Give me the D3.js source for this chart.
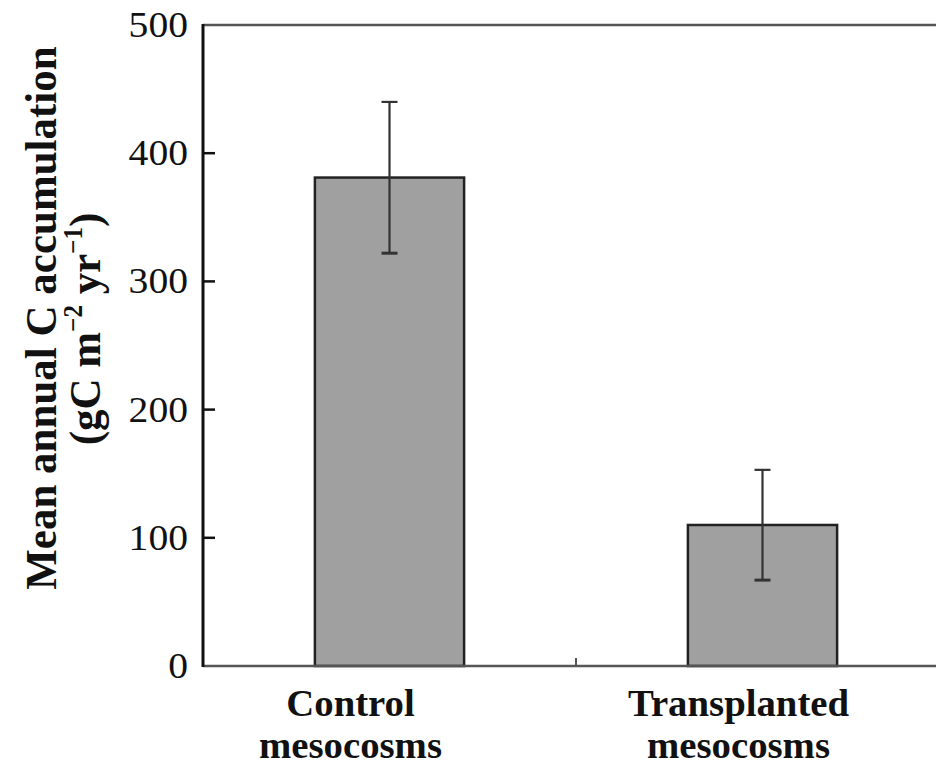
<!DOCTYPE html>
<html>
<head>
<meta charset="utf-8">
<script src="https://cdn.jsdelivr.net/npm/d3@7"></script>
<style>
  html, body { margin: 0; padding: 0; background: #fff; }
  svg { display: block; }
  text { font-family: "Liberation Serif", "Times New Roman", serif; fill: #111; }
</style>
</head>
<body>
<svg id="chart" width="936" height="767"></svg>
<script>
// Mean annual carbon accumulation per treatment, with error bars
const categories = ["Control", "Transplanted"];
const labelLines = [["Control", "mesocosms"], ["Transplanted", "mesocosms"]];
const meanValues = [381, 110];
const errorValues = [59, 43];
const yTicks = [0, 100, 200, 300, 400, 500];

const svg = d3.select("#chart");
const W = 936, H = 767;
const plot = { left: 203, right: 949, top: 25, bottom: 666 };

svg.append("rect").attr("width", W).attr("height", H).attr("fill", "#fff");

const x = d3.scaleBand()
  .domain(categories)
  .range([plot.left, plot.right])
  .paddingInner(0.6)
  .paddingOuter(0.3);

const y = d3.scaleLinear().domain([0, 500]).range([plot.bottom, plot.top]);

// bars
svg.append("g").selectAll("rect")
  .data(categories)
  .join("rect")
  .attr("x", d => x(d))
  .attr("y", (d, i) => y(meanValues[i]))
  .attr("width", x.bandwidth())
  .attr("height", (d, i) => y(0) - y(meanValues[i]))
  .attr("fill", "#a0a0a0")
  .attr("stroke", "#222")
  .attr("stroke-width", 2.5);

// error bars
const capHalf = 8;
const eb = svg.append("g").attr("stroke", "#333").attr("stroke-width", 2.2);
categories.forEach((c, i) => {
  const cx = x(c) + x.bandwidth() / 2;
  const hi = y(meanValues[i] + errorValues[i]);
  const lo = y(meanValues[i] - errorValues[i]);
  eb.append("line").attr("x1", cx).attr("x2", cx).attr("y1", hi).attr("y2", lo);
  eb.append("line").attr("x1", cx - capHalf).attr("x2", cx + capHalf).attr("y1", hi).attr("y2", hi);
  eb.append("line").attr("x1", cx - capHalf).attr("x2", cx + capHalf).attr("y1", lo).attr("y2", lo).attr("stroke-width", 3);
});

// frame: top border and baseline
svg.append("line")
  .attr("x1", plot.left).attr("x2", plot.right)
  .attr("y1", y(500)).attr("y2", y(500))
  .attr("stroke", "#555").attr("stroke-width", 2.5);
svg.append("line")
  .attr("x1", plot.left).attr("x2", plot.right)
  .attr("y1", y(0)).attr("y2", y(0))
  .attr("stroke", "#555").attr("stroke-width", 2.5);

// separator tick between the two categories
const sepX = (x(categories[0]) + x.bandwidth() + x(categories[1])) / 2;
svg.append("line")
  .attr("x1", sepX).attr("x2", sepX)
  .attr("y1", y(0)).attr("y2", y(0) - 8)
  .attr("stroke", "#555").attr("stroke-width", 2);

// y axis with inward ticks
const yAxis = svg.append("g");
yAxis.append("line")
  .attr("x1", plot.left).attr("x2", plot.left)
  .attr("y1", y(500) - 1).attr("y2", y(0) + 1)
  .attr("stroke", "#111").attr("stroke-width", 3);
yAxis.selectAll("line.tick")
  .data(yTicks.filter(t => t > 0 && t < 500))
  .join("line")
  .attr("class", "tick")
  .attr("x1", plot.left).attr("x2", plot.left + 12)
  .attr("y1", d => y(d)).attr("y2", d => y(d))
  .attr("stroke", "#111").attr("stroke-width", 2.5);
yAxis.selectAll("g.lbl")
  .data(yTicks)
  .join("g")
  .attr("class", "lbl")
  .attr("transform", d => `translate(188,${y(d) + 12}) scale(1.1,1)`)
  .append("text")
  .attr("text-anchor", "end")
  .attr("font-size", 36)
  .text(d => d);

// category labels
const labelShift = [-39, -24];
categories.forEach((c, i) => {
  const cx = x(c) + x.bandwidth() / 2 + labelShift[i];
  labelLines[i].forEach((line, j) => {
    svg.append("g")
      .attr("transform", `translate(${cx},${716 + j * 42}) scale(1.02,1)`)
      .append("text")
      .attr("text-anchor", "middle")
      .attr("font-size", 38)
      .attr("font-weight", "bold")
      .text(line);
  });
});

// y axis title
svg.append("g")
  .attr("transform", `translate(56,318) scale(1.05,1) rotate(-90)`)
  .append("text")
  .attr("text-anchor", "middle")
  .attr("font-size", 43)
  .attr("font-weight", "bold")
  .text("Mean annual C accumulation");

const t2 = svg.append("g")
  .attr("transform", `translate(100,329) scale(1.05,1) rotate(-90)`)
  .append("text")
  .attr("text-anchor", "middle")
  .attr("font-size", 43)
  .attr("font-weight", "bold");
t2.append("tspan").text("(gC m");
t2.append("tspan").attr("font-size", 25).attr("dy", -17).text("\u22122");
t2.append("tspan").attr("dy", 17).text(" yr");
t2.append("tspan").attr("font-size", 25).attr("dy", -17).text("\u22121");
t2.append("tspan").attr("dy", 17).text(")");
</script>
</body>
</html>
